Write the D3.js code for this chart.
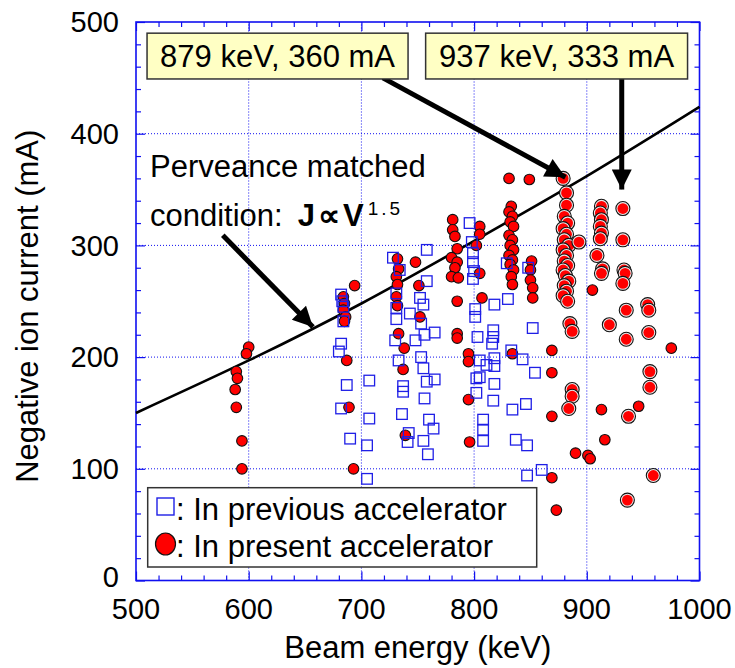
<!DOCTYPE html>
<html>
<head>
  <meta charset="utf-8">
  <title>Negative ion current vs beam energy</title>
  <style>
    body {
      background-color: white;
      margin: 0;
      padding: 0;
    }
    svg text {
      font-family: "Liberation Sans", Arial, sans-serif;
    }
  </style>
</head>
<body>
  <div id="chart-container"></div>

  <script src="https://d3js.org/d3.v7.min.js"></script>
  <script>
    // Axis ticks
    const xTicks = [500, 600, 700, 800, 900, 1000];
    const yTicks = [0, 100, 200, 300, 400, 500];

    // Previous accelerator (open squares): [keV, mA]
    const previousData = [
      [682, 256], [683, 250], [684, 245], [684, 232], [682, 212], [680, 205], [687, 175], [682, 154], [690, 127],
      [707, 179], [707, 145], [705, 121], [705, 91],
      [728, 289], [758, 296], [734, 278], [758, 268], [731, 257], [752, 253], [755, 247], [731, 244], [743, 239],
      [731, 234], [753, 230], [730, 215], [748, 215], [756, 220], [765, 222], [733, 197], [753, 200], [755, 190],
      [737, 174], [737, 169], [758, 178], [765, 180], [756, 163], [736, 149], [760, 144], [764, 136], [742, 132],
      [741, 124], [755, 125], [759, 113],
      [796, 320], [798, 303], [799, 293], [799, 285], [800, 277], [799, 270], [801, 243], [801, 236], [803, 218],
      [802, 181], [802, 168],
      [818, 247], [830, 252], [817, 224], [817, 218], [816, 212], [852, 226], [833, 206], [843, 198], [805, 197],
      [811, 193], [818, 199], [818, 192], [805, 182], [818, 176], [854, 186], [817, 161], [834, 153], [846, 158],
      [808, 144], [808, 135], [808, 125], [837, 126], [847, 121], [847, 94], [860, 99], [848, 280], [829, 284]
    ];

    // Present accelerator (filled circles): [keV, mA]
    const presentData = [
      [600, 209], [598, 203], [589, 187], [590, 181], [588, 171], [589, 155], [594, 125], [594, 100],
      [694, 264], [684, 254], [685, 248], [684, 242], [686, 236], [685, 232], [687, 197], [689, 155], [693, 100],
      [732, 288], [733, 279], [731, 272], [748, 285], [751, 264], [732, 265], [731, 254], [732, 246], [752, 236],
      [733, 221], [738, 208], [737, 189], [739, 130],
      [781, 323], [781, 314], [783, 308], [785, 297], [780, 289], [785, 285], [783, 280], [780, 272], [786, 271],
      [785, 250], [785, 221], [785, 217], [795, 203], [795, 196], [795, 162], [796, 124],
      [805, 317], [805, 310], [802, 300], [805, 275], [807, 253],
      [831, 360], [849, 359],
      [833, 335], [831, 330], [834, 326], [832, 321], [835, 317], [831, 309], [834, 305], [832, 300], [835, 296],
      [831, 291], [834, 287], [832, 283], [835, 278], [833, 272], [834, 265],
      [851, 286], [850, 278], [850, 269], [852, 262], [852, 253],
      [834, 203], [869, 206], [869, 186], [869, 147], [869, 92], [873, 63],
      [890, 114], [901, 112], [903, 109], [905, 260], [913, 153], [916, 126], [946, 156], [975, 208]
    ];

    // Present accelerator, latest shots (circles drawn with a light rim): [keV, mA]
    const presentLatestData = [
      [879, 360], [882, 347], [882, 336], [880, 326], [883, 320], [879, 315], [882, 310], [880, 305], [884, 300],
      [879, 296], [882, 291], [880, 286], [883, 282], [879, 278], [881, 273], [884, 268], [880, 264], [882, 259],
      [879, 255], [883, 250],
      [893, 303], [885, 230], [887, 223], [887, 171], [887, 165], [884, 154],
      [913, 335], [912, 329], [913, 323], [912, 317], [913, 311], [912, 306], [909, 291], [914, 279], [913, 275],
      [932, 333], [932, 305], [933, 278], [934, 275], [932, 266], [935, 242], [935, 216], [920, 229],
      [954, 247], [955, 242], [955, 222], [956, 187], [956, 173], [937, 147], [959, 94], [936, 72]
    ];

    // Perveance matched condition
    const perveanceLine = [[500, 150], [600, 197], [700, 248], [800, 304], [900, 362], [1000, 424]];

    const width = 735, height = 668;
    const margin = { left: 136, right: 35.5, top: 22, bottom: 87.5 };

    const svg = d3.select('#chart-container').append('svg')
      .attr('width', width)
      .attr('height', height);

    const x = d3.scaleLinear().domain([500, 1000]).range([margin.left, width - margin.right]);
    const y = d3.scaleLinear().domain([0, 500]).range([height - margin.bottom, margin.top]);

    const axisBlue = '#1010f0';
    const minorX = d3.range(500, 1001, 20).filter(v => v % 100 !== 0);
    const minorY = d3.range(0, 501, 20).filter(v => v % 100 !== 0);

    // Dotted grid
    svg.append('g').selectAll('line')
      .data(xTicks.slice(1, -1))
      .enter().append('line')
      .attr('x1', d => x(d)).attr('x2', d => x(d))
      .attr('y1', y(0)).attr('y2', y(500))
      .attr('stroke', axisBlue).attr('stroke-width', 1).attr('stroke-dasharray', '1,2');
    svg.append('g').selectAll('line')
      .data(yTicks.slice(1, -1))
      .enter().append('line')
      .attr('y1', d => y(d)).attr('y2', d => y(d))
      .attr('x1', x(500)).attr('x2', x(1000))
      .attr('stroke', axisBlue).attr('stroke-width', 1).attr('stroke-dasharray', '1,2');

    // Inward ticks on all four sides
    function tickAxis(axis, tx, ty) {
      const g = svg.append('g').attr('transform', `translate(${tx},${ty})`).call(axis);
      g.select('.domain').remove();
      g.selectAll('line').attr('stroke', axisBlue).attr('stroke-width', 1.2);
      return g;
    }
    tickAxis(d3.axisBottom(x).tickValues(xTicks).tickSize(-9).tickFormat(''), 0, y(0));
    tickAxis(d3.axisBottom(x).tickValues(minorX).tickSize(-5).tickFormat(''), 0, y(0));
    tickAxis(d3.axisTop(x).tickValues(xTicks).tickSize(-9).tickFormat(''), 0, y(500));
    tickAxis(d3.axisTop(x).tickValues(minorX).tickSize(-5).tickFormat(''), 0, y(500));
    tickAxis(d3.axisLeft(y).tickValues(yTicks).tickSize(-9).tickFormat(''), x(500), 0);
    tickAxis(d3.axisLeft(y).tickValues(minorY).tickSize(-5).tickFormat(''), x(500), 0);
    tickAxis(d3.axisRight(y).tickValues(yTicks).tickSize(-9).tickFormat(''), x(1000), 0);
    tickAxis(d3.axisRight(y).tickValues(minorY).tickSize(-5).tickFormat(''), x(1000), 0);

    // Frame
    svg.append('rect')
      .attr('x', x(500)).attr('y', y(500))
      .attr('width', x(1000) - x(500)).attr('height', y(0) - y(500))
      .attr('fill', 'none').attr('stroke', axisBlue).attr('stroke-width', 1.6);

    // Tick labels
    svg.append('g').selectAll('text')
      .data(xTicks)
      .enter().append('text')
      .attr('x', d => x(d)).attr('y', 619)
      .attr('text-anchor', 'middle')
      .style('font-size', '29px')
      .text(d => d);
    svg.append('g').selectAll('text')
      .data(yTicks)
      .enter().append('text')
      .attr('x', x(500) - 17).attr('y', d => Math.min(y(d), y(0) - 4))
      .attr('dy', '0.35em')
      .attr('text-anchor', 'end')
      .style('font-size', '29px')
      .text(d => d);

    // Axis titles
    svg.append('text')
      .attr('x', (x(500) + x(1000)) / 2).attr('y', 658)
      .attr('text-anchor', 'middle')
      .style('font-size', '31px')
      .text('Beam energy (keV)');
    svg.append('text')
      .attr('transform', `translate(38,${(y(0) + y(500)) / 2 + 5}) rotate(-90)`)
      .attr('text-anchor', 'middle')
      .style('font-size', '31px')
      .text('Negative ion current (mA)');

    // Perveance line
    svg.append('path')
      .datum(perveanceLine)
      .attr('d', d3.line().x(d => x(d[0])).y(d => y(d[1])).curve(d3.curveNatural))
      .attr('fill', 'none').attr('stroke', 'black').attr('stroke-width', 2.6);

    // Present accelerator circles
    svg.append('g').selectAll('circle')
      .data(presentData)
      .enter().append('circle')
      .attr('cx', d => x(d[0])).attr('cy', d => y(d[1]))
      .attr('r', 5.3)
      .attr('fill', '#ff0000').attr('stroke', '#111').attr('stroke-width', 1.1);

    const latest = svg.append('g').selectAll('g')
      .data(presentLatestData)
      .enter().append('g')
      .attr('transform', d => `translate(${x(d[0])},${y(d[1])})`);
    latest.append('circle')
      .attr('r', 7)
      .attr('fill', '#e8e8e8').attr('stroke', '#111').attr('stroke-width', 1.1);
    latest.append('circle')
      .attr('r', 5.4)
      .attr('fill', '#ff0000');

    // Previous accelerator squares
    svg.append('g').selectAll('rect')
      .data(previousData)
      .enter().append('rect')
      .attr('x', d => x(d[0]) - 5.3).attr('y', d => y(d[1]) - 5.3)
      .attr('width', 10.6).attr('height', 10.6)
      .attr('fill', 'none').attr('stroke', '#1f1fe6').attr('stroke-width', 1.3);

    // Arrows
    const defs = svg.append('defs');
    defs.append('marker')
      .attr('id', 'head')
      .attr('viewBox', '0 0 10 10')
      .attr('refX', 10).attr('refY', 5)
      .attr('markerUnits', 'userSpaceOnUse')
      .attr('markerWidth', 26).attr('markerHeight', 20)
      .attr('orient', 'auto')
      .append('path').attr('d', 'M0,0 L10,5 L0,10 Z').attr('fill', 'black');

    const arrows = [
      { from: [577, 309], to: [657, 227] },
      { from: [719, 450], to: [881, 361] },
      { from: [931, 450], to: [931, 350] }
    ];
    svg.append('g').selectAll('line')
      .data(arrows)
      .enter().append('line')
      .attr('x1', d => x(d.from[0])).attr('y1', d => y(d.from[1]))
      .attr('x2', d => x(d.to[0])).attr('y2', d => y(d.to[1]))
      .attr('stroke', 'black').attr('stroke-width', 5)
      .attr('marker-end', 'url(#head)');

    // Callout boxes
    const callouts = [
      { text: '879 keV, 360 mA', x0: 509.8, x1: 741.4 },
      { text: '937 keV, 333 mA', x0: 757, x1: 989.4 }
    ];
    const cg = svg.append('g').selectAll('g')
      .data(callouts)
      .enter().append('g');
    cg.append('rect')
      .attr('x', d => x(d.x0)).attr('y', y(490))
      .attr('width', d => x(d.x1) - x(d.x0)).attr('height', y(449) - y(490))
      .attr('fill', '#ffffc4').attr('stroke', '#333').attr('stroke-width', 1.5);
    cg.append('text')
      .attr('x', d => (x(d.x0) + x(d.x1)) / 2).attr('y', 67)
      .attr('text-anchor', 'middle')
      .style('font-size', '31px')
      .text(d => d.text);

    // Perveance label
    svg.append('text')
      .attr('x', 150).attr('y', 177)
      .style('font-size', '31px')
      .text('Perveance matched');
    const cond = svg.append('text')
      .attr('x', 150).attr('y', 226)
      .style('font-size', '31px');
    cond.append('tspan').text('condition:');
    cond.append('tspan').attr('dx', 15).attr('font-weight', 'bold')
      .style('letter-spacing', '3px').text('J\u221DV');
    cond.append('tspan').attr('dx', 1).attr('dy', -11)
      .style('font-size', '19px').style('letter-spacing', '3px').text('1.5');

    // Legend
    const lg = svg.append('g');
    lg.append('rect')
      .attr('x', 147.7).attr('y', 487.7)
      .attr('width', 389).attr('height', 79.3)
      .attr('fill', 'white').attr('stroke', '#333').attr('stroke-width', 1.5);
    lg.append('rect')
      .attr('x', 157).attr('y', 498)
      .attr('width', 17).attr('height', 17)
      .attr('fill', 'none').attr('stroke', '#1f1fe6').attr('stroke-width', 1.4);
    lg.append('text')
      .attr('x', 176).attr('y', 520)
      .style('font-size', '31px')
      .text(': In previous accelerator');
    lg.append('ellipse')
      .attr('cx', 165.5).attr('cy', 544)
      .attr('rx', 10).attr('ry', 11)
      .attr('fill', '#ff0000').attr('stroke', '#111').attr('stroke-width', 1.2);
    lg.append('text')
      .attr('x', 176).attr('y', 557)
      .style('font-size', '31px')
      .text(': In present accelerator');
  </script>
</body>
</html>
